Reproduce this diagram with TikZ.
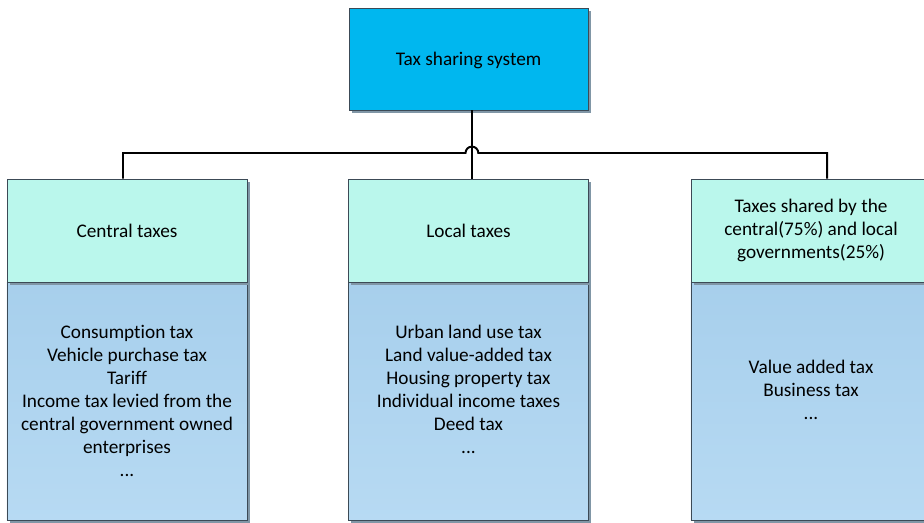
\documentclass[tikz,border=0pt]{standalone}
\usepackage{fontspec}
\setmainfont{Carlito}[Ligatures=NoCommon]
\usepackage{xcolor}
\usetikzlibrary{shadows}

\definecolor{topblue}{HTML}{00B7EF}
\definecolor{headaqua}{HTML}{BAF7EC}
\definecolor{bodytop}{HTML}{A7CFEC}
\definecolor{bodybot}{HTML}{B7DAF3}
\definecolor{edgegray}{HTML}{3C4A56}
\definecolor{shadowgray}{HTML}{8096A6}

\begin{document}
\begin{tikzpicture}[x=0.025cm, y=-0.025cm,
  every node/.style={font=\fontsize{13.7}{16.35}\selectfont},
  boxshadow/.style={drop shadow={shadow xshift=0.07cm, shadow yshift=-0.07cm, fill=shadowgray, opacity=1}},
  topbox/.style={rectangle, draw=edgegray, line width=0.5pt, fill=topblue, boxshadow, minimum width=5.975cm, minimum height=2.55cm, text depth=0pt},
  headbox/.style={rectangle, draw=edgegray, line width=0.5pt, fill=headaqua, boxshadow, minimum width=6cm, minimum height=2.575cm, align=center},
  bodybox/.style={rectangle, draw=edgegray, line width=0.5pt, top color=bodytop, bottom color=bodybot, boxshadow, minimum width=6cm, minimum height=5.95cm, anchor=north},
  bodytext/.style={align=center, inner sep=0pt},
  link/.style={line width=1.4pt, black}]
\useasboundingbox (0,0) rectangle (924,523);

\node[topbox] (top) at (468.5,59) {Tax sharing system};

\node[bodybox] (lbody) at (127,282) {};
\node[bodybox] (mbody) at (468.5,282) {};
\node[bodybox] (rbody) at (811,282) {};

\node[headbox] (lhead) at (127,230.5) {Central taxes};
\node[headbox] (mhead) at (468.5,230.5) {Local taxes};
\node[headbox] (rhead) at (811,230.5) {Taxes shared by the\\central(75\%) and local\\governments(25\%)};

\node[bodytext] (ltext) at (lbody.center) {Consumption tax\\Vehicle purchase tax\\Tariff\\Income tax levied from the\\central government owned\\enterprises\\...};
\node[bodytext] (mtext) at ([yshift=0.29cm]mbody.center) {Urban land use tax\\Land value-added tax\\Housing property tax\\Individual income taxes\\Deed tax\\...};
\node[bodytext] (rtext) at ([yshift=0.29cm]rbody.center) {Value added tax\\Business tax\\...};

% connectors
\coordinate (hopl) at (465.5,153);
\draw[link] ([xshift=0.09cm]top.south) -- ([xshift=0.09cm]mhead.north);
\draw[link] ([xshift=-0.1cm]lhead.north) |- (hopl) arc[start angle=180, end angle=0, radius=0.16cm] -| ([xshift=0.4cm]rhead.north);

\end{tikzpicture}
\end{document}
